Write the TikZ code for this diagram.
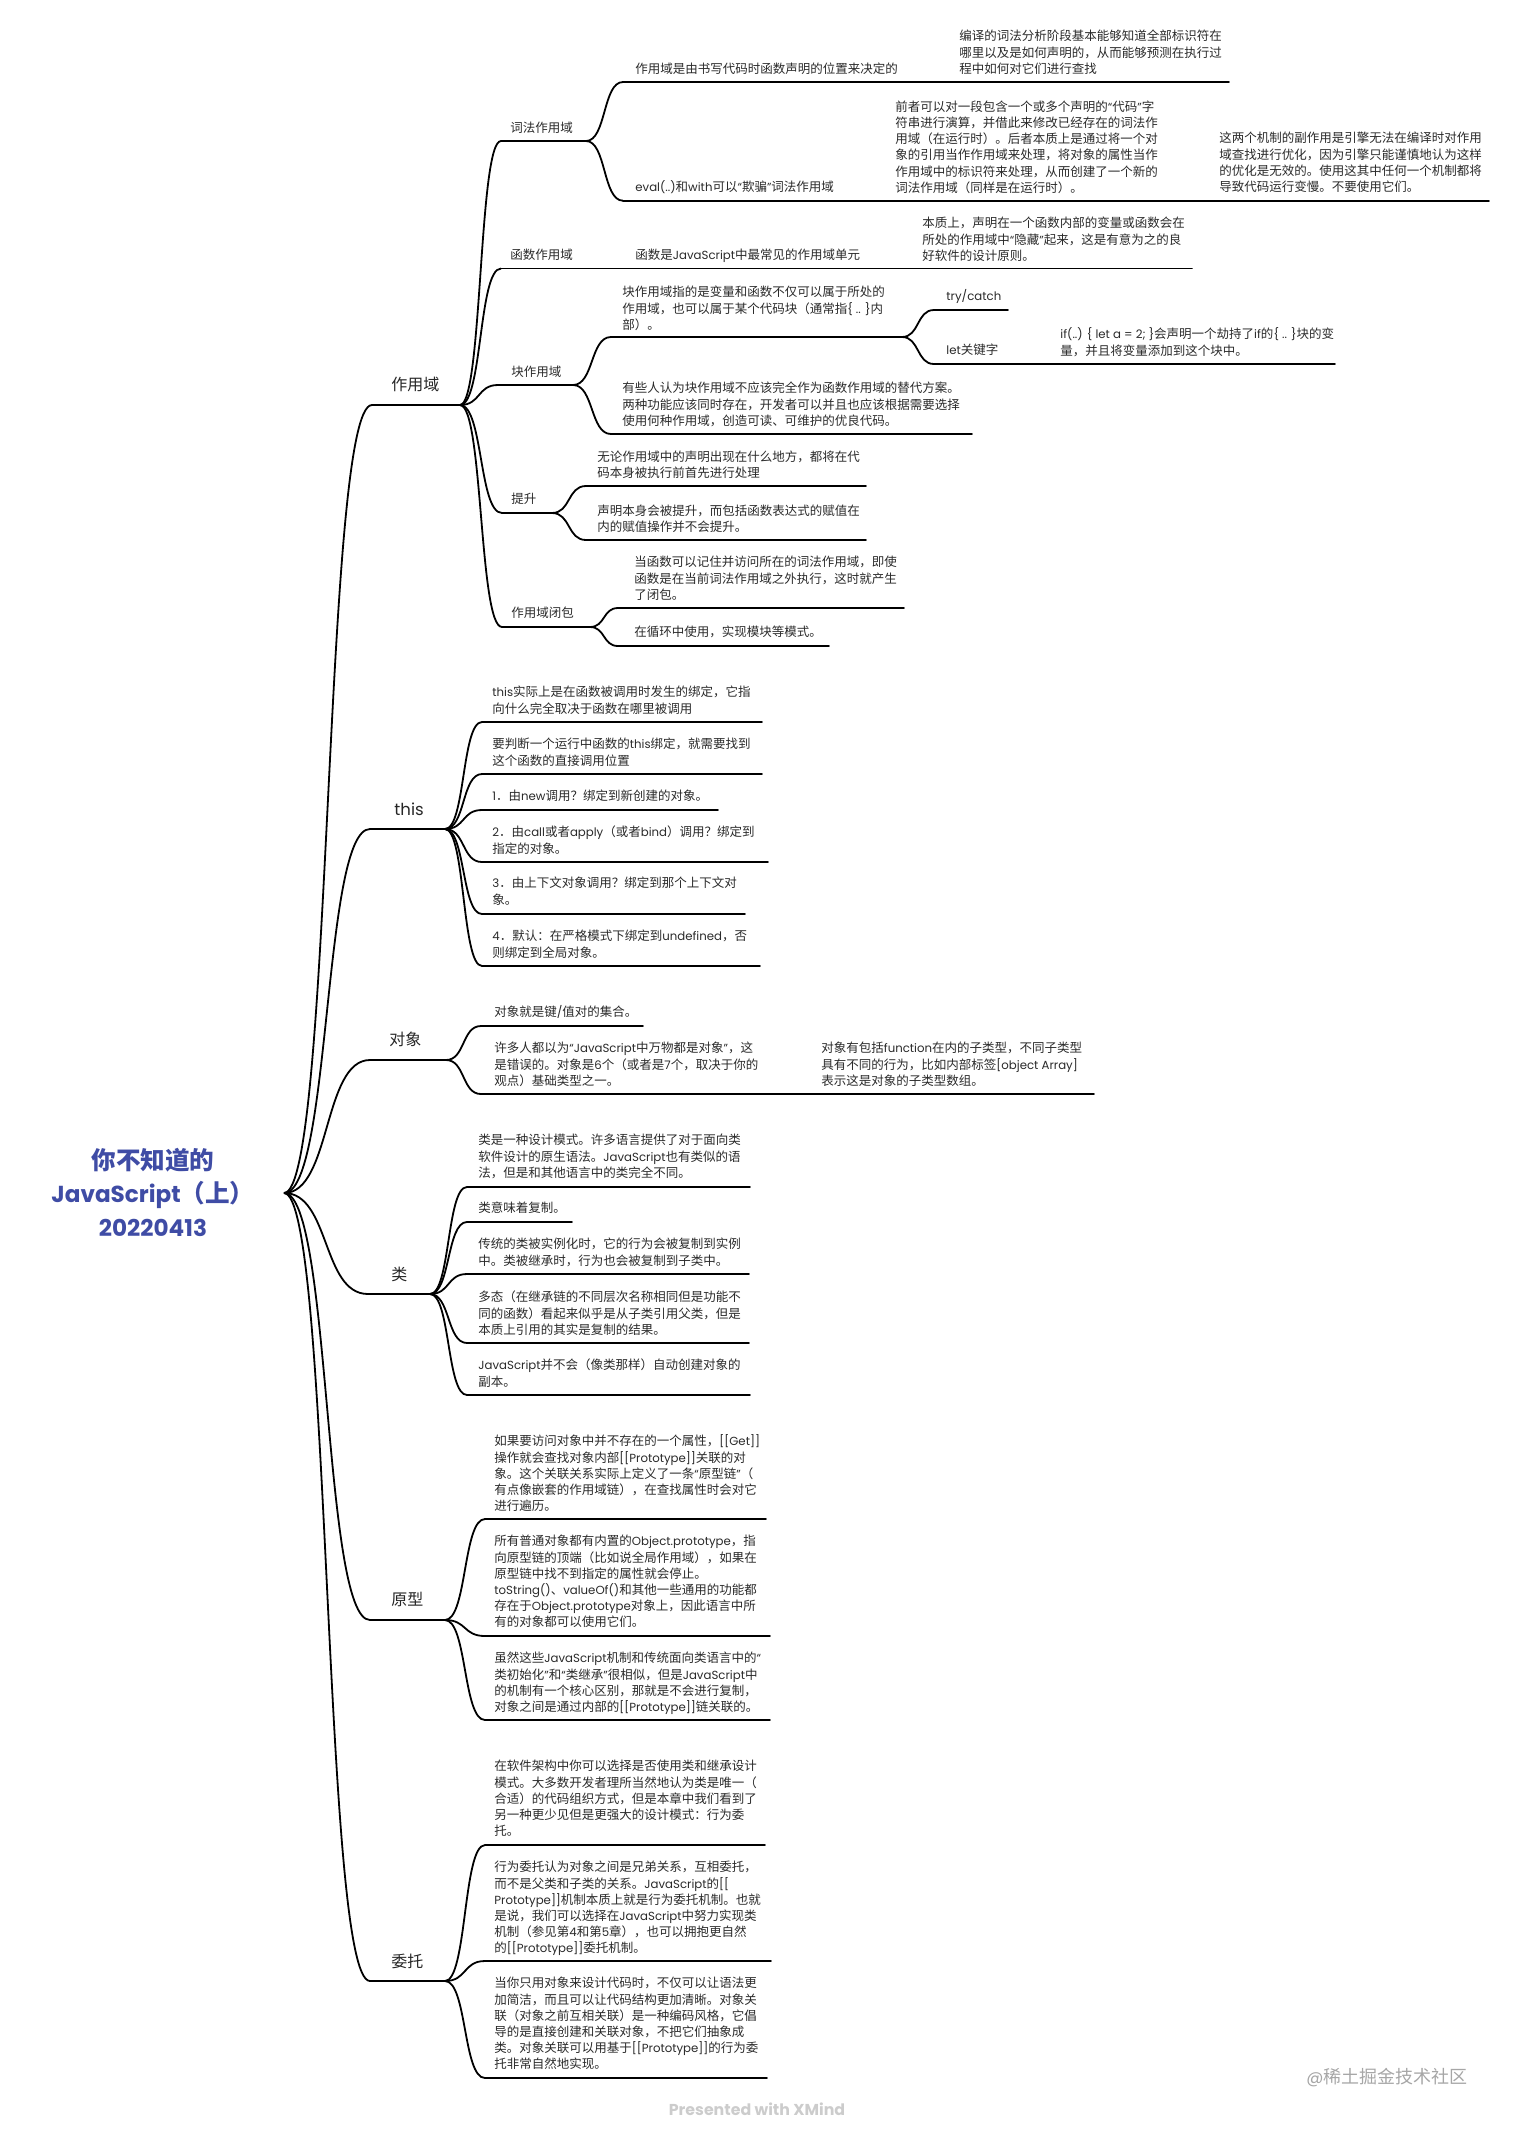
\documentclass[tikz,border=0pt]{standalone}
\usepackage{fontspec}
\usetikzlibrary{calc}
\setmainfont[Scale=0.94]{Poppins}
\newfontfamily\cjkf{Noto Sans CJK SC}
\newfontfamily\latf[Scale=0.94]{Poppins}
\newXeTeXintercharclass\cjkclass
\count255="3000
\loop\ifnum\count255<"A000 \XeTeXcharclass\count255=\cjkclass \advance\count255 by 1 \repeat
\count255="FF00
\loop\ifnum\count255<"FFF0 \XeTeXcharclass\count255=\cjkclass \advance\count255 by 1 \repeat
\XeTeXinterchartoks 0 \cjkclass={\cjkf}
\XeTeXinterchartoks 4095 \cjkclass={\cjkf}
\XeTeXinterchartoks \cjkclass 0={\latf}
\XeTeXinterchartoks \cjkclass 4095={\latf}
\XeTeXinterchartokenstate=1
\definecolor{ink}{HTML}{2A2A2A}
\definecolor{titleblue}{HTML}{3F4CA5}
\tikzset{
  underl/.style={black,line width=0.9pt,line cap=round},
  linkline/.style={black,line width=0.9pt},
  tx/.style={anchor=north west,inner sep=0pt,align=left,text=ink,font=\fontsize{6.25}{8.05}\selectfont},
  mainlabel/.style={anchor=north west,inner sep=0pt,align=left,text=black!85,font=\fontsize{8}{10}\selectfont},
  roottitle/.style={anchor=center,inner sep=0pt,align=center,text=titleblue,font=\fontsize{12.3}{16.75}\selectfont\bfseries},
}
% name, line x0, line x1, line y, text x, first line centre y, text
\newcommand\topic[7]{%
  \coordinate (#1-l) at (#2,#4);
  \coordinate (#1-r) at (#3,#4);
  \draw[underl] (#1-l) -- (#1-r);
  \node[tx] (#1) at (#5,#6-7.5) {\rule{0pt}{6pt}#7};
}
\newcommand\maintopic[7]{%
  \coordinate (#1-l) at (#2,#4);
  \coordinate (#1-r) at (#3,#4);
  \draw[underl] (#1-l) -- (#1-r);
  \node[mainlabel] (#1) at (#5,#6-9) {\rule{0pt}{7.5pt}#7};
}
\newcommand\conn[2]{%
  \draw[linkline] (#1-r) .. controls ($(#1-r)!0.55!(#2-l |- #1-r)$) and ($(#2-l)!0.55!(#1-r |- #2-l)$) .. (#2-l);
}
\newcommand\straight[2]{\draw[linkline] (#1-r) -- (#2-l);}
\begin{document}
\begin{tikzpicture}[x=0.5pt,y=-0.5pt]
\useasboundingbox (0,0) rectangle (1512,2133);
% root
\node[roottitle] (root) at (153,1192) {你不知道的\\JavaScript（上）\\20220413};
\coordinate (root-r) at (284,1193);
% scope
\maintopic{zy}{372}{460}{405}{391}{384}{作用域}
\topic{lex}{501}{586}{141}{510}{128}{词法作用域}
\topic{lexa}{623}{925}{82}{635}{69}{作用域是由书写代码时函数声明的位置来决定的}
\topic{lexan}{950}{1229}{82}{959}{36}{编译的词法分析阶段基本能够知道全部标识符在\\哪里以及是如何声明的，从而能够预测在执行过\\程中如何对它们进行查找}
\topic{lexb}{623}{845}{200.7}{635}{187}{eval(..)和with可以“欺骗”词法作用域}
\topic{lexbn}{885}{1170}{200.7}{895}{106.7}{前者可以对一段包含一个或多个声明的“代码”字\\符串进行演算，并借此来修改已经存在的词法作\\用域（在运行时）。后者本质上是通过将一个对\\象的引用当作作用域来处理，将对象的属性当作\\作用域中的标识符来处理，从而创建了一个新的\\词法作用域（同样是在运行时）。}
\topic{lexbm}{1209}{1489}{200.7}{1219}{138}{这两个机制的副作用是引擎无法在编译时对作用\\域查找进行优化，因为引擎只能谨慎地认为这样\\的优化是无效的。使用这其中任何一个机制都将\\导致代码运行变慢。不要使用它们。}
\topic{fn}{501}{586}{268.5}{510}{255}{函数作用域}
\topic{fna}{623}{880}{268.5}{635}{255}{函数是JavaScript中最常见的作用域单元}
\topic{fnan}{912}{1192}{268.5}{922}{223}{本质上，声明在一个函数内部的变量或函数会在\\所处的作用域中“隐藏”起来，这是有意为之的良\\好软件的设计原则。}
\topic{blk}{498}{573}{385}{511}{372}{块作用域}
\topic{blka}{611}{902}{337}{622}{292}{块作用域指的是变量和函数不仅可以属于所处的\\作用域，也可以属于某个代码块（通常指\{ .. \}内\\部）。}
\topic{tryc}{934}{1008}{310}{946}{296}{try/catch}
\topic{letk}{934}{1022}{364}{946}{350}{let关键字}
\topic{letn}{1052}{1335}{364}{1060}{334}{if(..) \{ let a = 2; \}会声明一个劫持了if的\{ .. \}块的变\\量，并且将变量添加到这个块中。}
\topic{blkb}{611}{972}{434}{622}{388}{有些人认为块作用域不应该完全作为函数作用域的替代方案。\\两种功能应该同时存在，开发者可以并且也应该根据需要选择\\使用何种作用域，创造可读、可维护的优良代码。}
\topic{hoist}{502}{552}{513}{511}{499}{提升}
\topic{hoa}{586}{866}{486}{597}{456.5}{无论作用域中的声明出现在什么地方，都将在代\\码本身被执行前首先进行处理}
\topic{hob}{586}{866}{540}{597}{510.5}{声明本身会被提升，而包括函数表达式的赋值在\\内的赋值操作并不会提升。}
\topic{clo}{502}{590}{627}{511}{613}{作用域闭包}
\topic{cloa}{618}{904}{608}{634}{562}{当函数可以记住并访问所在的词法作用域，即使\\函数是在当前词法作用域之外执行，这时就产生\\了闭包。}
\topic{clob}{618}{829}{646}{634}{632}{在循环中使用，实现模块等模式。}
% this
\maintopic{th}{370}{445}{829}{394}{809}{\fontsize{8.8}{10}\selectfont this}
\topic{tha}{482}{762}{722}{492}{692}{this实际上是在函数被调用时发生的绑定，它指\\向什么完全取决于函数在哪里被调用}
\topic{thb}{482}{762}{774}{492}{744}{要判断一个运行中函数的this绑定，就需要找到\\这个函数的直接调用位置}
\topic{thc}{482}{718}{810}{492}{796}{1．由new调用？绑定到新创建的对象。}
\topic{thd}{482}{768}{862}{492}{832}{2．由call或者apply（或者bind）调用？绑定到\\指定的对象。}
\topic{the}{482}{745}{914}{492}{883}{3．由上下文对象调用？绑定到那个上下文对\\象。}
\topic{thf}{482}{760}{966}{492}{936}{4．默认：在严格模式下绑定到undefined，否\\则绑定到全局对象。}
% object
\maintopic{ob}{370}{446}{1060}{389}{1039}{对象}
\topic{oba}{481}{643}{1026}{494}{1012}{对象就是键/值对的集合。}
\topic{obb}{481}{775}{1094}{494}{1048}{许多人都以为“JavaScript中万物都是对象”，这\\是错误的。对象是6个（或者是7个，取决于你的\\观点）基础类型之一。}
\topic{obbn}{812}{1094}{1094}{821}{1048}{对象有包括function在内的子类型，不同子类型\\具有不同的行为，比如内部标签[object Array]\\表示这是对象的子类型数组。}
% class
\maintopic{cl}{368}{430}{1294}{391}{1274}{类}
\topic{cla}{467}{750}{1187}{478}{1140}{类是一种设计模式。许多语言提供了对于面向类\\软件设计的原生语法。JavaScript也有类似的语\\法，但是和其他语言中的类完全不同。}
\topic{clb}{467}{572}{1222}{478}{1208}{类意味着复制。}
\topic{clc}{467}{749}{1274}{478}{1244}{传统的类被实例化时，它的行为会被复制到实例\\中。类被继承时，行为也会被复制到子类中。}
\topic{cld}{467}{749}{1343}{478}{1297}{多态（在继承链的不同层次名称相同但是功能不\\同的函数）看起来似乎是从子类引用父类，但是\\本质上引用的其实是复制的结果。}
\topic{cle}{467}{750}{1395}{478}{1365}{JavaScript并不会（像类那样）自动创建对象的\\副本。}
% prototype
\maintopic{pr}{370}{445}{1620}{391}{1599}{原型}
\topic{pra}{485}{766}{1519}{494}{1441}{如果要访问对象中并不存在的一个属性，[[Get]]\\操作就会查找对象内部[[Prototype]]关联的对\\象。这个关联关系实际上定义了一条“原型链”（\\有点像嵌套的作用域链），在查找属性时会对它\\进行遍历。}
\topic{prb}{485}{770}{1636}{494}{1541}{所有普通对象都有内置的Object.prototype，指\\向原型链的顶端（比如说全局作用域），如果在\\原型链中找不到指定的属性就会停止。\\toString()、valueOf()和其他一些通用的功能都\\存在于Object.prototype对象上，因此语言中所\\有的对象都可以使用它们。}
\topic{prc}{485}{770}{1720}{494}{1658}{虽然这些JavaScript机制和传统面向类语言中的“\\类初始化”和“类继承”很相似，但是JavaScript中\\的机制有一个核心区别，那就是不会进行复制，\\对象之间是通过内部的[[Prototype]]链关联的。}
% delegation
\maintopic{de}{370}{445}{1981}{391}{1961}{委托}
\topic{dea}{485}{765}{1845}{494}{1766}{在软件架构中你可以选择是否使用类和继承设计\\模式。大多数开发者理所当然地认为类是唯一（\\合适）的代码组织方式，但是本章中我们看到了\\另一种更少见但是更强大的设计模式：行为委\\托。}
\topic{deb}{485}{771}{1961}{494}{1867}{行为委托认为对象之间是兄弟关系，互相委托，\\而不是父类和子类的关系。JavaScript的[[\\Prototype]]机制本质上就是行为委托机制。也就\\是说，我们可以选择在JavaScript中努力实现类\\机制（参见第4和第5章），也可以拥抱更自然\\的[[Prototype]]委托机制。}
\topic{dec}{485}{767}{2078}{494}{1983}{当你只用对象来设计代码时，不仅可以让语法更\\加简洁，而且可以让代码结构更加清晰。对象关\\联（对象之前互相关联）是一种编码风格，它倡\\导的是直接创建和关联对象，不把它们抽象成\\类。对象关联可以用基于[[Prototype]]的行为委\\托非常自然地实现。}
% watermark
\node[anchor=center,inner sep=0pt,text=black!20,font=\fontsize{8.4}{10}\selectfont\bfseries] (wm) at (757,2109) {Presented with XMind};
\node[anchor=center,inner sep=0pt,text=black!35,font=\fontsize{9}{11}\selectfont] (wm2) at (1387,2078) {@稀土掘金技术社区};
% connectors
\foreach \c in {zy,th,ob,cl,pr,de}{\conn{root}{\c}}
\foreach \c in {lex,fn,blk,hoist,clo}{\conn{zy}{\c}}
\foreach \c in {lexa,lexb}{\conn{lex}{\c}}
\straight{lexa}{lexan}
\straight{lexb}{lexbn}
\straight{lexbn}{lexbm}
\straight{fn}{fna}
\straight{fna}{fnan}
\foreach \c in {blka,blkb}{\conn{blk}{\c}}
\foreach \c in {tryc,letk}{\conn{blka}{\c}}
\straight{letk}{letn}
\foreach \c in {hoa,hob}{\conn{hoist}{\c}}
\foreach \c in {cloa,clob}{\conn{clo}{\c}}
\foreach \c in {tha,thb,thc,thd,the,thf}{\conn{th}{\c}}
\foreach \c in {oba,obb}{\conn{ob}{\c}}
\straight{obb}{obbn}
\foreach \c in {cla,clb,clc,cld,cle}{\conn{cl}{\c}}
\foreach \c in {pra,prb,prc}{\conn{pr}{\c}}
\foreach \c in {dea,deb,dec}{\conn{de}{\c}}
\end{tikzpicture}
\end{document}
